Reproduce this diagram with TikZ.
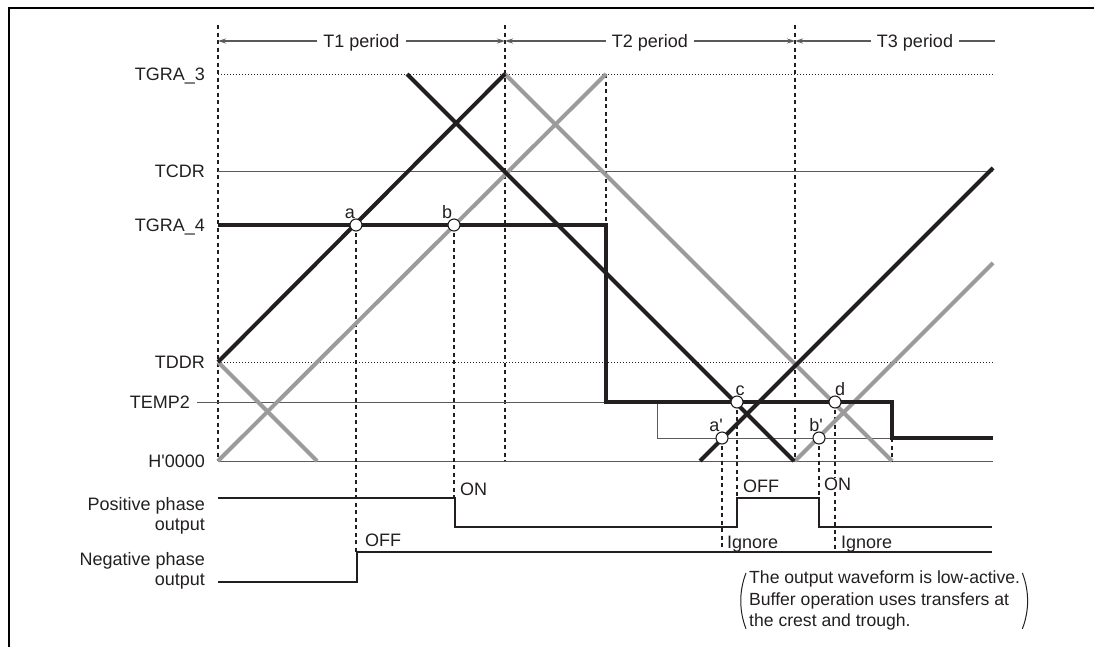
\documentclass[tikz,border=0pt]{standalone}
\usepackage{fontspec}
\setmainfont{Liberation Sans}
\usetikzlibrary{arrows.meta,positioning}
\definecolor{inkblack}{HTML}{231F20}
\definecolor{wavegray}{HTML}{9B9B9B}
\definecolor{rulegray}{HTML}{5A5A5A}

\begin{document}
\begin{tikzpicture}[x=1pt, y=-1pt,
  every node/.style={font=\fontsize{18}{19.5}\selectfont, inner sep=0pt, text=inkblack},
  lbl/.style  ={text height=13pt, text depth=0pt},
  level/.style={lbl, anchor=east},
  frame/.style={line width=2.4pt, draw=black},
  guide/.style={dash pattern=on 4pt off 3.5pt, line width=1.1pt, draw=inkblack},
  dotline/.style={dash pattern=on 1.2pt off 1.8pt, line width=1pt, draw=inkblack},
  hairline/.style={line width=1pt, draw=rulegray},
  blk/.style  ={line width=4pt, draw=inkblack},
  gry/.style  ={line width=4pt, draw=wavegray},
  stepline/.style={line width=4.5pt, draw=inkblack},
  outline/.style={line width=2.6pt, draw=inkblack},
  hit/.style  ={circle, draw=inkblack, line width=1.1pt, fill=white, minimum size=12pt},
  periodarrow/.style={line width=1.1pt, draw=rulegray},
  periodlabel/.style={lbl, fill=white, inner xsep=6pt},
  parenline/.style={line width=1pt, draw=inkblack}
]
  \useasboundingbox (0,0) rectangle (1094,646);
  \draw[frame] (1100,8) -| (9,650);

  % period markers
  \foreach \gx in {218,505,795}
    \draw[guide] (\gx,25) -- (\gx,461);
  \coordinate (p0) at (218,41);
  \coordinate (p1) at (505,41);
  \coordinate (p2) at (795,41);
  \coordinate (p3) at (995,41);
  \draw[periodarrow, {Stealth[length=8pt,width=5pt]}-{Stealth[length=8pt,width=5pt]}] (p0) -- (p1)
    node[periodlabel, midway] (t1) {T1 period};
  \draw[periodarrow, {Stealth[length=8pt,width=5pt]}-{Stealth[length=8pt,width=5pt]}] (p1) -- (p2)
    node[periodlabel, midway] (t2) {T2 period};
  \draw[periodarrow, {Stealth[length=8pt,width=5pt]}-] (p2) -- (p3)
    node[periodlabel, pos=0.6] (t3) {T3 period};

  % register levels
  \node[level] (tgra3) at (205,74)  {TGRA\_3};
  \node[level] (tcdr)  at (205,171) {TCDR};
  \node[level] (tgra4) at (205,225) {TGRA\_4};
  \node[level] (tddr)  at (205,362) {TDDR};
  \node[level] (temp2) at (190,402) {TEMP2};
  \node[level] (hzero) at (205,461) {H\textquotesingle 0000};
  \draw[dotline]  (218,74)  -- (993,74);
  \draw[dotline]  (218,362) -- (993,362);
  \draw[hairline] (218,171) -- (993,171);
  \draw[hairline] (218,461) -- (993,461);
  \draw[hairline] (197,402) -- (607,402);
  \draw[hairline] (657,402) -- (657,438) -- (892,438);

  % compare points
  \coordinate (pa)  at (356,225);
  \coordinate (pb)  at (454,225);
  \coordinate (pc)  at (737,402);
  \coordinate (pd)  at (835,402);
  \coordinate (pa2) at (722,438);
  \coordinate (pb2) at (819,438);

  % drop guides
  \draw[guide] (606,74)  -- (606,225);
  \draw[guide] (892,438) -- (892,461);
  \draw[guide] (pa)  -- (pa |- 0,552);
  \draw[guide] (pb)  -- (pb |- 0,498);
  \draw[guide] (pc)  -- (pc |- 0,498);
  \draw[guide] (pd)  -- (pd |- 0,552);
  \draw[guide] (pa2) -- (pa2 |- 0,548);
  \draw[guide] (pb2) -- (pb2 |- 0,498);

  % counters
  \draw[gry] (218,362) -- (317,461);
  \draw[gry] (218,461) -- (606,74);
  \draw[gry] (505,74)  -- (892,461);
  \draw[gry] (795,461) -- (993,263);
  \draw[blk] (218,362) -- (505,74);
  \draw[blk] (407,74)  -- (794,461);
  \draw[blk] (700,461) -- (993,168);
  \draw[stepline] (218,225) -- (606,225) -- (606,402) -- (892,402) -- (892,438) -- (993,438);

  \node[hit] (a)  at (pa)  {};
  \node[hit] (b)  at (pb)  {};
  \node[hit] (c)  at (pc)  {};
  \node[hit] (d)  at (pd)  {};
  \node[hit] (a2) at (pa2) {};
  \node[hit] (b2) at (pb2) {};
  \node[lbl] (alab)  at (350,212) {a};
  \node[lbl] (blab)  at (447,212) {b};
  \node[lbl] (clab)  at (740,389) {c};
  \node[lbl] (dlab)  at (840,389) {d};
  \node[lbl] (a2lab) at (716,425) {a\textquotesingle};
  \node[lbl] (b2lab) at (816,425) {b\textquotesingle};

  % outputs
  \node[anchor=east, align=right] (pos) at (205,516) {Positive phase\\output};
  \node[anchor=east, align=right] (neg) at (205,571) {Negative phase\\output};
  \draw[outline] (218,498) -- (455,498) -- (455,527) -- (737,527) -- (737,498)
    -- (819,498) -- (819,527) -- (992,527);
  \draw[outline] (218,582) -- (357,582) -- (357,552) -- (992,552);
  \node[lbl, anchor=west] (on1)  at (460,489) {ON};
  \node[lbl, anchor=west] (off1) at (365,540) {OFF};
  \node[lbl, anchor=west] (off2) at (743,486) {OFF};
  \node[lbl, anchor=west, fill=white] (on2) at (824,484) {ON};
  \node[lbl, anchor=west] (ign1) at (727,542) {Ignore};
  \node[lbl, anchor=west] (ign2) at (841,542) {Ignore};

  % note
  \node[anchor=north west, align=left, font=\fontsize{17.6}{21.5}\selectfont] (note) at (749,571)
    {The output waveform is low-active.\\Buffer operation uses transfers at\\the crest and trough.};
  \draw[parenline] ([xshift=-3pt,yshift=-2pt]note.north west) .. controls +(-7,18) and +(-7,-18)
    .. ([xshift=-3pt,yshift=2pt]note.south west);
  \draw[parenline] ([xshift=2pt,yshift=-2pt]note.north east) .. controls +(7,18) and +(7,-18)
    .. ([xshift=2pt,yshift=2pt]note.south east);
\end{tikzpicture}
\end{document}
